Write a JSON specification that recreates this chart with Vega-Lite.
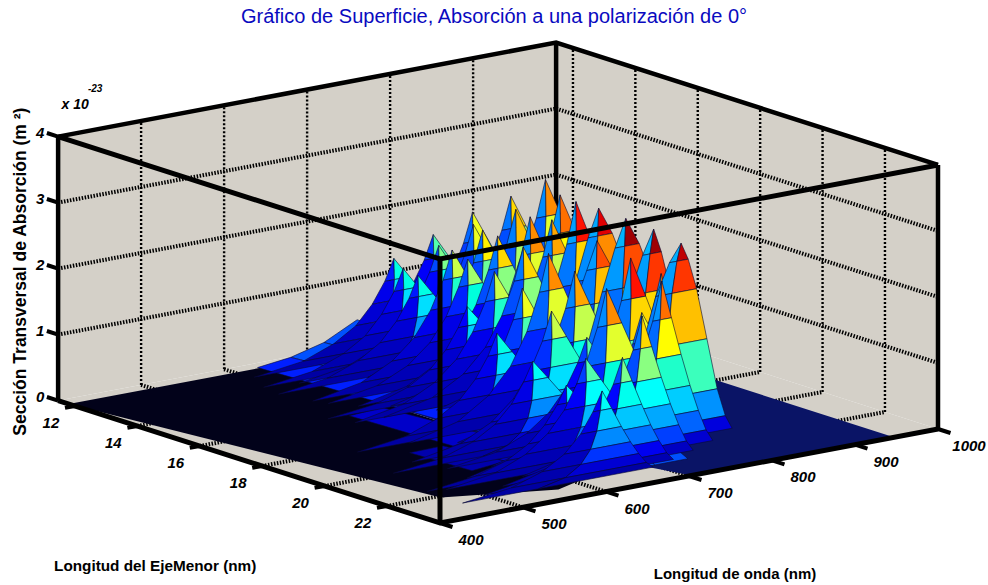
{"$schema":"https://vega.github.io/schema/vega-lite/v6.json","width":988,"height":585,"padding":0,"autosize":{"type":"none"},"background":"white","config":{"view":{"stroke":null}},
"title":{"text":"Gráfico de Superficie, Absorción a una polarización de 0°","font":"Liberation Sans","fontSize":20,"fontWeight":"normal","color":"#0a0ac0","anchor":"middle","dy":31,"dx":0},
"datasets":{
"planes":[
{"k":"wall","g":"a","i":0,"w":400,"e":11.46,"z":0},{"k":"wall","g":"a","i":1,"w":1000,"e":11.46,"z":0},{"k":"wall","g":"a","i":2,"w":1000,"e":11.46,"z":4},{"k":"wall","g":"a","i":3,"w":400,"e":11.46,"z":4},
{"k":"wall","g":"b","i":0,"w":1000,"e":11.46,"z":0},{"k":"wall","g":"b","i":1,"w":1000,"e":23.7,"z":0},{"k":"wall","g":"b","i":2,"w":1000,"e":23.7,"z":4},{"k":"wall","g":"b","i":3,"w":1000,"e":11.46,"z":4},
{"k":"wall","g":"c","i":0,"w":400,"e":11.46,"z":0},{"k":"wall","g":"c","i":1,"w":1000,"e":11.46,"z":0},{"k":"wall","g":"c","i":2,"w":1000,"e":23.7,"z":0},{"k":"wall","g":"c","i":3,"w":400,"e":23.7,"z":0},
{"k":"dark","g":"d","i":0,"w":400,"e":11.8,"z":0},{"k":"dark","g":"d","i":1,"w":461,"e":22.1,"z":0},{"k":"dark","g":"d","i":2,"w":569,"e":23,"z":0},{"k":"dark","g":"d","i":3,"w":640,"e":22.4,"z":0},{"k":"dark","g":"d","i":4,"w":640,"e":11.8,"z":0},
{"k":"navy","g":"n","i":0,"w":640,"e":11.8,"z":0},{"k":"navy","g":"n","i":1,"w":640,"e":22.4,"z":0},{"k":"navy","g":"n","i":2,"w":688,"e":22.5,"z":0},{"k":"navy","g":"n","i":3,"w":703,"e":23.7,"z":0},{"k":"navy","g":"n","i":4,"w":947,"e":23.7,"z":0},{"k":"navy","g":"n","i":5,"w":947,"e":11.8,"z":0}
],
"sheet":[
{"w1":700,"w2":740,"e1":12,"e2":21,"a":0.25,"b":0.5,"c":0.4,"d":0.5},{"w1":700,"w2":740,"e1":21,"e2":22.6,"a":0.5,"b":0.4,"c":0,"d":0},
{"w1":660,"w2":700,"e1":12,"e2":21,"a":0.12,"b":0.25,"c":0.5,"d":0.4},{"w1":660,"w2":700,"e1":21,"e2":22.6,"a":0.4,"b":0.5,"c":0,"d":0},
{"w1":620,"w2":660,"e1":12,"e2":21,"a":0.06,"b":0.12,"c":0.4,"d":0.2},{"w1":620,"w2":660,"e1":21,"e2":22.6,"a":0.2,"b":0.4,"c":0,"d":0},
{"w1":580,"w2":620,"e1":16,"e2":21,"a":0.03,"b":0.06,"c":0.2,"d":0.1},{"w1":580,"w2":620,"e1":21,"e2":22.6,"a":0.1,"b":0.2,"c":0,"d":0},
{"w1":540,"w2":580,"e1":19,"e2":21,"a":0.02,"b":0.03,"c":0.1,"d":0.05}
],
"lines":[
{"c":"gh","g":"h1","i":0,"w":400,"e":11.46,"z":1},{"c":"gh","g":"h1","i":1,"w":1000,"e":11.46,"z":1},{"c":"gh","g":"h1","i":2,"w":1000,"e":23.7,"z":1},
{"c":"gh","g":"h2","i":0,"w":400,"e":11.46,"z":2},{"c":"gh","g":"h2","i":1,"w":1000,"e":11.46,"z":2},{"c":"gh","g":"h2","i":2,"w":1000,"e":23.7,"z":2},
{"c":"gh","g":"h3","i":0,"w":400,"e":11.46,"z":3},{"c":"gh","g":"h3","i":1,"w":1000,"e":11.46,"z":3},{"c":"gh","g":"h3","i":2,"w":1000,"e":23.7,"z":3},
{"c":"gv","g":"v5","i":0,"w":500,"e":11.46,"z":0},{"c":"gv","g":"v5","i":1,"w":500,"e":11.46,"z":4},
{"c":"gv","g":"v6","i":0,"w":600,"e":11.46,"z":0},{"c":"gv","g":"v6","i":1,"w":600,"e":11.46,"z":4},
{"c":"gv","g":"v7","i":0,"w":700,"e":11.46,"z":0},{"c":"gv","g":"v7","i":1,"w":700,"e":11.46,"z":4},
{"c":"gv","g":"v8","i":0,"w":800,"e":11.46,"z":0},{"c":"gv","g":"v8","i":1,"w":800,"e":11.46,"z":4},
{"c":"gv","g":"v9","i":0,"w":900,"e":11.46,"z":0},{"c":"gv","g":"v9","i":1,"w":900,"e":11.46,"z":4},
{"c":"gv","g":"u12","i":0,"w":1000,"e":12,"z":0},{"c":"gv","g":"u12","i":1,"w":1000,"e":12,"z":4},
{"c":"gv","g":"u14","i":0,"w":1000,"e":14,"z":0},{"c":"gv","g":"u14","i":1,"w":1000,"e":14,"z":4},
{"c":"gv","g":"u16","i":0,"w":1000,"e":16,"z":0},{"c":"gv","g":"u16","i":1,"w":1000,"e":16,"z":4},
{"c":"gv","g":"u18","i":0,"w":1000,"e":18,"z":0},{"c":"gv","g":"u18","i":1,"w":1000,"e":18,"z":4},
{"c":"gv","g":"u20","i":0,"w":1000,"e":20,"z":0},{"c":"gv","g":"u20","i":1,"w":1000,"e":20,"z":4},
{"c":"gv","g":"u22","i":0,"w":1000,"e":22,"z":0},{"c":"gv","g":"u22","i":1,"w":1000,"e":22,"z":4},
{"c":"gh","g":"f5","i":0,"w":500,"e":11.46,"z":0},{"c":"gh","g":"f5","i":1,"w":500,"e":23.7,"z":0},
{"c":"gh","g":"f6","i":0,"w":600,"e":11.46,"z":0},{"c":"gh","g":"f6","i":1,"w":600,"e":23.7,"z":0},
{"c":"gh","g":"f7","i":0,"w":700,"e":11.46,"z":0},{"c":"gh","g":"f7","i":1,"w":700,"e":23.7,"z":0},
{"c":"gh","g":"f8","i":0,"w":800,"e":11.46,"z":0},{"c":"gh","g":"f8","i":1,"w":800,"e":23.7,"z":0},
{"c":"gh","g":"f9","i":0,"w":900,"e":11.46,"z":0},{"c":"gh","g":"f9","i":1,"w":900,"e":23.7,"z":0},
{"c":"gh","g":"r12","i":0,"w":400,"e":12,"z":0},{"c":"gh","g":"r12","i":1,"w":1000,"e":12,"z":0},
{"c":"gh","g":"r14","i":0,"w":400,"e":14,"z":0},{"c":"gh","g":"r14","i":1,"w":1000,"e":14,"z":0},
{"c":"gh","g":"r16","i":0,"w":400,"e":16,"z":0},{"c":"gh","g":"r16","i":1,"w":1000,"e":16,"z":0},
{"c":"gh","g":"r18","i":0,"w":400,"e":18,"z":0},{"c":"gh","g":"r18","i":1,"w":1000,"e":18,"z":0},
{"c":"gh","g":"r20","i":0,"w":400,"e":20,"z":0},{"c":"gh","g":"r20","i":1,"w":1000,"e":20,"z":0},
{"c":"gh","g":"r22","i":0,"w":400,"e":22,"z":0},{"c":"gh","g":"r22","i":1,"w":1000,"e":22,"z":0},
{"c":"back","g":"b1","i":0,"w":400,"e":11.46,"z":4},{"c":"back","g":"b1","i":1,"w":1000,"e":11.46,"z":4},{"c":"back","g":"b1","i":2,"w":1000,"e":23.7,"z":4},
{"c":"back","g":"b2","i":0,"w":400,"e":11.46,"z":0},{"c":"back","g":"b2","i":1,"w":400,"e":11.46,"z":4},
{"c":"back","g":"b3","i":0,"w":1000,"e":11.46,"z":0},{"c":"back","g":"b3","i":1,"w":1000,"e":11.46,"z":4},
{"c":"back","g":"b4","i":0,"w":1000,"e":23.7,"z":0},{"c":"back","g":"b4","i":1,"w":1000,"e":23.7,"z":4},
{"c":"front","g":"c1","i":0,"w":400,"e":11.46,"z":4},{"c":"front","g":"c1","i":1,"w":400,"e":23.7,"z":4},{"c":"front","g":"c1","i":2,"w":1000,"e":23.7,"z":4},
{"c":"front","g":"c2","i":0,"w":400,"e":23.7,"z":0},{"c":"front","g":"c2","i":1,"w":400,"e":23.7,"z":4},
{"c":"front","g":"c3","i":0,"w":400,"e":11.46,"z":0},{"c":"front","g":"c3","i":1,"w":400,"e":23.7,"z":0},{"c":"front","g":"c3","i":2,"w":1000,"e":23.7,"z":0},
{"c":"tick","g":"te12","i":0,"w":388,"e":12,"z":0},{"c":"tick","g":"te12","i":1,"w":400,"e":12,"z":0},
{"c":"tick","g":"te14","i":0,"w":388,"e":14,"z":0},{"c":"tick","g":"te14","i":1,"w":400,"e":14,"z":0},
{"c":"tick","g":"te16","i":0,"w":388,"e":16,"z":0},{"c":"tick","g":"te16","i":1,"w":400,"e":16,"z":0},
{"c":"tick","g":"te18","i":0,"w":388,"e":18,"z":0},{"c":"tick","g":"te18","i":1,"w":400,"e":18,"z":0},
{"c":"tick","g":"te20","i":0,"w":388,"e":20,"z":0},{"c":"tick","g":"te20","i":1,"w":400,"e":20,"z":0},
{"c":"tick","g":"te22","i":0,"w":388,"e":22,"z":0},{"c":"tick","g":"te22","i":1,"w":400,"e":22,"z":0},
{"c":"tick","g":"tw4","i":0,"w":400,"e":23.7,"z":0},{"c":"tick","g":"tw4","i":1,"w":400,"e":24.1,"z":0},
{"c":"tick","g":"tw5","i":0,"w":500,"e":23.7,"z":0},{"c":"tick","g":"tw5","i":1,"w":500,"e":24.1,"z":0},
{"c":"tick","g":"tw6","i":0,"w":600,"e":23.7,"z":0},{"c":"tick","g":"tw6","i":1,"w":600,"e":24.1,"z":0},
{"c":"tick","g":"tw7","i":0,"w":700,"e":23.7,"z":0},{"c":"tick","g":"tw7","i":1,"w":700,"e":24.1,"z":0},
{"c":"tick","g":"tw8","i":0,"w":800,"e":23.7,"z":0},{"c":"tick","g":"tw8","i":1,"w":800,"e":24.1,"z":0},
{"c":"tick","g":"tw9","i":0,"w":900,"e":23.7,"z":0},{"c":"tick","g":"tw9","i":1,"w":900,"e":24.1,"z":0},
{"c":"tick","g":"tw10","i":0,"w":1000,"e":23.7,"z":0},{"c":"tick","g":"tw10","i":1,"w":1000,"e":24.1,"z":0},
{"c":"tick","g":"tz0","i":0,"w":400,"e":11.1,"z":0},{"c":"tick","g":"tz0","i":1,"w":400,"e":11.46,"z":0},
{"c":"tick","g":"tz1","i":0,"w":400,"e":11.1,"z":1},{"c":"tick","g":"tz1","i":1,"w":400,"e":11.46,"z":1},
{"c":"tick","g":"tz2","i":0,"w":400,"e":11.1,"z":2},{"c":"tick","g":"tz2","i":1,"w":400,"e":11.46,"z":2},
{"c":"tick","g":"tz3","i":0,"w":400,"e":11.1,"z":3},{"c":"tick","g":"tz3","i":1,"w":400,"e":11.46,"z":3},
{"c":"tick","g":"tz4","i":0,"w":400,"e":11.1,"z":4},{"c":"tick","g":"tz4","i":1,"w":400,"e":11.46,"z":4}
],
"labels":[
{"ax":"e","t":"12","w":400,"e":12,"z":0},{"ax":"e","t":"14","w":400,"e":14,"z":0},{"ax":"e","t":"16","w":400,"e":16,"z":0},{"ax":"e","t":"18","w":400,"e":18,"z":0},{"ax":"e","t":"20","w":400,"e":20,"z":0},{"ax":"e","t":"22","w":400,"e":22,"z":0},
{"ax":"w","t":"400","w":400,"e":23.7,"z":0},{"ax":"w","t":"500","w":500,"e":23.7,"z":0},{"ax":"w","t":"600","w":600,"e":23.7,"z":0},{"ax":"w","t":"700","w":700,"e":23.7,"z":0},{"ax":"w","t":"800","w":800,"e":23.7,"z":0},{"ax":"w","t":"900","w":900,"e":23.7,"z":0},{"ax":"w","t":"1000","w":1000,"e":23.7,"z":0},
{"ax":"z","t":"0","w":400,"e":11.46,"z":0},{"ax":"z","t":"1","w":400,"e":11.46,"z":1},{"ax":"z","t":"2","w":400,"e":11.46,"z":2},{"ax":"z","t":"3","w":400,"e":11.46,"z":3},{"ax":"z","t":"4","w":400,"e":11.46,"z":4},
{"ax":"te","t":"Longitud del EjeMenor (nm)","w":400,"e":18,"z":0},
{"ax":"tw","t":"Longitud de onda (nm)","w":700,"e":23.7,"z":0},
{"ax":"tz","t":"Sección Transversal de Absorción (m ²)","w":400,"e":11.46,"z":2},
{"ax":"x1","t":"x 10","w":400,"e":11.46,"z":4},
{"ax":"x2","t":"-23","w":400,"e":11.46,"z":4}
],
"spikes":[
{"e":11.7,"a":1.5,"l":843,"r":843},{"e":11.7,"a":1.17,"l":827,"r":849},{"e":11.7,"a":0.84,"l":807,"r":855},{"e":11.7,"a":0.56,"l":783,"r":861},{"e":11.7,"a":0.33,"l":753,"r":867},{"e":11.7,"a":0.15,"l":713,"r":873},{"e":11.7,"a":0.05,"l":653,"r":879},
{"e":11.9,"a":1.3,"l":788,"r":788},{"e":11.9,"a":1.01,"l":772,"r":794},{"e":11.9,"a":0.73,"l":752,"r":800},{"e":11.9,"a":0.48,"l":728,"r":806},{"e":11.9,"a":0.29,"l":698,"r":812},{"e":11.9,"a":0.13,"l":658,"r":818},{"e":11.9,"a":0.04,"l":598,"r":824},
{"e":12.4,"a":1.9,"l":864,"r":864},{"e":12.4,"a":1.48,"l":848,"r":870},{"e":12.4,"a":1.06,"l":828,"r":876},{"e":12.4,"a":0.7,"l":804,"r":882},{"e":12.4,"a":0.42,"l":774,"r":888},{"e":12.4,"a":0.19,"l":734,"r":894},{"e":12.4,"a":0.06,"l":674,"r":900},
{"e":12.65,"a":1.3,"l":771,"r":771},{"e":12.65,"a":1.01,"l":755,"r":777},{"e":12.65,"a":0.73,"l":735,"r":783},{"e":12.65,"a":0.48,"l":711,"r":789},{"e":12.65,"a":0.29,"l":681,"r":795},{"e":12.65,"a":0.13,"l":641,"r":801},{"e":12.65,"a":0.04,"l":581,"r":807},
{"e":12.7,"a":2.1,"l":899,"r":899},{"e":12.7,"a":1.64,"l":883,"r":905},{"e":12.7,"a":1.18,"l":863,"r":911},{"e":12.7,"a":0.78,"l":839,"r":917},{"e":12.7,"a":0.46,"l":809,"r":923},{"e":12.7,"a":0.21,"l":769,"r":929},{"e":12.7,"a":0.06,"l":709,"r":935},
{"e":12.86,"a":1.6,"l":806,"r":806},{"e":12.86,"a":1.25,"l":790,"r":812},{"e":12.86,"a":0.9,"l":770,"r":818},{"e":12.86,"a":0.59,"l":746,"r":824},{"e":12.86,"a":0.35,"l":716,"r":830},{"e":12.86,"a":0.16,"l":676,"r":836},{"e":12.86,"a":0.05,"l":616,"r":842},
{"e":13.2,"a":1.9,"l":835,"r":835},{"e":13.2,"a":1.48,"l":819,"r":841},{"e":13.2,"a":1.06,"l":799,"r":847},{"e":13.2,"a":0.7,"l":775,"r":853},{"e":13.2,"a":0.42,"l":745,"r":859},{"e":13.2,"a":0.19,"l":705,"r":865},{"e":13.2,"a":0.06,"l":645,"r":871},
{"e":13.26,"a":1.3,"l":766,"r":766},{"e":13.26,"a":1.01,"l":750,"r":772},{"e":13.26,"a":0.73,"l":730,"r":778},{"e":13.26,"a":0.48,"l":706,"r":784},{"e":13.26,"a":0.29,"l":676,"r":790},{"e":13.26,"a":0.13,"l":636,"r":796},{"e":13.26,"a":0.04,"l":576,"r":802},
{"e":13.3,"a":2.4,"l":918,"r":918},{"e":13.3,"a":1.87,"l":902,"r":924},{"e":13.3,"a":1.34,"l":882,"r":930},{"e":13.3,"a":0.89,"l":858,"r":936},{"e":13.3,"a":0.53,"l":828,"r":942},{"e":13.3,"a":0.24,"l":788,"r":948},{"e":13.3,"a":0.07,"l":728,"r":954},
{"e":14,"a":2.2,"l":856,"r":856},{"e":14,"a":1.72,"l":840,"r":862},{"e":14,"a":1.23,"l":820,"r":868},{"e":14,"a":0.81,"l":796,"r":874},{"e":14,"a":0.48,"l":766,"r":880},{"e":14,"a":0.22,"l":726,"r":886},{"e":14,"a":0.07,"l":666,"r":892},
{"e":14.08,"a":2,"l":813,"r":813},{"e":14.08,"a":1.56,"l":797,"r":819},{"e":14.08,"a":1.12,"l":777,"r":825},{"e":14.08,"a":0.74,"l":753,"r":831},{"e":14.08,"a":0.44,"l":723,"r":837},{"e":14.08,"a":0.2,"l":683,"r":843},{"e":14.08,"a":0.06,"l":623,"r":849},
{"e":14.14,"a":1.8,"l":774,"r":774},{"e":14.14,"a":1.4,"l":758,"r":780},{"e":14.14,"a":1.01,"l":738,"r":786},{"e":14.14,"a":0.67,"l":714,"r":792},{"e":14.14,"a":0.4,"l":684,"r":798},{"e":14.14,"a":0.18,"l":644,"r":804},{"e":14.14,"a":0.05,"l":584,"r":810},
{"e":14.48,"a":1.7,"l":780,"r":780},{"e":14.48,"a":1.33,"l":764,"r":786},{"e":14.48,"a":0.95,"l":744,"r":792},{"e":14.48,"a":0.63,"l":720,"r":798},{"e":14.48,"a":0.37,"l":690,"r":804},{"e":14.48,"a":0.17,"l":650,"r":810},{"e":14.48,"a":0.05,"l":590,"r":816},
{"e":14.86,"a":2.5,"l":877,"r":877},{"e":14.86,"a":1.95,"l":861,"r":883},{"e":14.86,"a":1.4,"l":841,"r":889},{"e":14.86,"a":0.93,"l":817,"r":895},{"e":14.86,"a":0.55,"l":787,"r":901},{"e":14.86,"a":0.25,"l":747,"r":907},{"e":14.86,"a":0.08,"l":687,"r":913},
{"e":15.04,"a":2.1,"l":795,"r":795},{"e":15.04,"a":1.64,"l":779,"r":801},{"e":15.04,"a":1.18,"l":759,"r":807},{"e":15.04,"a":0.78,"l":735,"r":813},{"e":15.04,"a":0.46,"l":705,"r":819},{"e":15.04,"a":0.21,"l":665,"r":825},{"e":15.04,"a":0.06,"l":605,"r":831},
{"e":15.4,"a":1.2,"l":745,"r":745},{"e":15.4,"a":0.94,"l":729,"r":751},{"e":15.4,"a":0.67,"l":709,"r":757},{"e":15.4,"a":0.44,"l":685,"r":763},{"e":15.4,"a":0.26,"l":655,"r":769},{"e":15.4,"a":0.12,"l":615,"r":775},{"e":15.4,"a":0.04,"l":555,"r":781},
{"e":15.47,"a":2.4,"l":818,"r":818},{"e":15.47,"a":1.87,"l":802,"r":824},{"e":15.47,"a":1.34,"l":782,"r":830},{"e":15.47,"a":0.89,"l":758,"r":836},{"e":15.47,"a":0.53,"l":728,"r":842},{"e":15.47,"a":0.24,"l":688,"r":848},{"e":15.47,"a":0.07,"l":628,"r":854},
{"e":15.5,"a":2.3,"l":843,"r":843},{"e":15.5,"a":1.79,"l":827,"r":849},{"e":15.5,"a":1.29,"l":807,"r":855},{"e":15.5,"a":0.85,"l":783,"r":861},{"e":15.5,"a":0.51,"l":753,"r":867},{"e":15.5,"a":0.23,"l":713,"r":873},{"e":15.5,"a":0.07,"l":653,"r":879},
{"e":16,"a":1.8,"l":755,"r":755},{"e":16,"a":1.4,"l":739,"r":761},{"e":16,"a":1.01,"l":719,"r":767},{"e":16,"a":0.67,"l":695,"r":773},{"e":16,"a":0.4,"l":665,"r":779},{"e":16,"a":0.18,"l":625,"r":785},{"e":16,"a":0.05,"l":565,"r":791},
{"e":16.05,"a":2.1,"l":788,"r":788},{"e":16.05,"a":1.64,"l":772,"r":794},{"e":16.05,"a":1.18,"l":752,"r":800},{"e":16.05,"a":0.78,"l":728,"r":806},{"e":16.05,"a":0.46,"l":698,"r":812},{"e":16.05,"a":0.21,"l":658,"r":818},{"e":16.05,"a":0.06,"l":598,"r":824},
{"e":16.3,"a":2.7,"l":842,"r":842},{"e":16.3,"a":2.11,"l":826,"r":848},{"e":16.3,"a":1.51,"l":806,"r":854},{"e":16.3,"a":1,"l":782,"r":860},{"e":16.3,"a":0.59,"l":752,"r":866},{"e":16.3,"a":0.27,"l":712,"r":872},{"e":16.3,"a":0.08,"l":652,"r":878},
{"e":17.4,"a":2.8,"l":828,"r":828},{"e":17.4,"a":2.4,"l":812,"r":834},{"e":17.4,"a":1.8,"l":792,"r":840},{"e":17.4,"a":1.1,"l":768,"r":846},{"e":17.4,"a":0.62,"l":738,"r":852},{"e":17.4,"a":0.28,"l":698,"r":858},{"e":17.4,"a":0.08,"l":638,"r":864},
{"e":17.7,"a":2.1,"l":815,"r":815},{"e":17.7,"a":1.64,"l":799,"r":821},{"e":17.7,"a":1.18,"l":779,"r":827},{"e":17.7,"a":0.78,"l":755,"r":833},{"e":17.7,"a":0.46,"l":725,"r":839},{"e":17.7,"a":0.21,"l":685,"r":845},{"e":17.7,"a":0.06,"l":625,"r":851},
{"e":17.8,"a":1.9,"l":721,"r":721},{"e":17.8,"a":1.48,"l":705,"r":727},{"e":17.8,"a":1.06,"l":685,"r":733},{"e":17.8,"a":0.7,"l":661,"r":739},{"e":17.8,"a":0.42,"l":631,"r":745},{"e":17.8,"a":0.19,"l":591,"r":751},{"e":17.8,"a":0.06,"l":531,"r":757},
{"e":17.84,"a":1.3,"l":689,"r":689},{"e":17.84,"a":1.01,"l":673,"r":695},{"e":17.84,"a":0.73,"l":653,"r":701},{"e":17.84,"a":0.48,"l":629,"r":707},{"e":17.84,"a":0.29,"l":599,"r":713},{"e":17.84,"a":0.13,"l":559,"r":719},{"e":17.84,"a":0.04,"l":499,"r":725},
{"e":18,"a":2.4,"l":745,"r":745},{"e":18,"a":1.87,"l":729,"r":751},{"e":18,"a":1.34,"l":709,"r":757},{"e":18,"a":0.89,"l":685,"r":763},{"e":18,"a":0.53,"l":655,"r":769},{"e":18,"a":0.24,"l":615,"r":775},{"e":18,"a":0.07,"l":555,"r":781},
{"e":18.6,"a":2.6,"l":781,"r":781},{"e":18.6,"a":2.2,"l":765,"r":787},{"e":18.6,"a":1.7,"l":745,"r":793},{"e":18.6,"a":1.05,"l":721,"r":799},{"e":18.6,"a":0.57,"l":691,"r":805},{"e":18.6,"a":0.26,"l":651,"r":811},{"e":18.6,"a":0.08,"l":591,"r":817},
{"e":19,"a":2.3,"l":739,"r":739},{"e":19,"a":1.79,"l":723,"r":745},{"e":19,"a":1.29,"l":703,"r":751},{"e":19,"a":0.85,"l":679,"r":757},{"e":19,"a":0.51,"l":649,"r":763},{"e":19,"a":0.23,"l":609,"r":769},{"e":19,"a":0.07,"l":549,"r":775},
{"e":19.16,"a":1.8,"l":705,"r":705},{"e":19.16,"a":1.4,"l":689,"r":711},{"e":19.16,"a":1.01,"l":669,"r":717},{"e":19.16,"a":0.67,"l":645,"r":723},{"e":19.16,"a":0.4,"l":615,"r":729},{"e":19.16,"a":0.18,"l":575,"r":735},{"e":19.16,"a":0.05,"l":515,"r":741},
{"e":19.2,"a":3,"l":793,"r":793},{"e":19.2,"a":2.6,"l":777,"r":799},{"e":19.2,"a":2,"l":757,"r":805},{"e":19.2,"a":1.25,"l":733,"r":811},{"e":19.2,"a":0.66,"l":703,"r":817},{"e":19.2,"a":0.3,"l":663,"r":823},{"e":19.2,"a":0.09,"l":603,"r":829},
{"e":19.6,"a":1.2,"l":666,"r":666},{"e":19.6,"a":0.94,"l":650,"r":672},{"e":19.6,"a":0.67,"l":630,"r":678},{"e":19.6,"a":0.44,"l":606,"r":684},{"e":19.6,"a":0.26,"l":576,"r":690},{"e":19.6,"a":0.12,"l":536,"r":696},{"e":19.6,"a":0.04,"l":476,"r":702},
{"e":20,"a":1.5,"l":716,"r":716},{"e":20,"a":1.17,"l":700,"r":722},{"e":20,"a":0.84,"l":680,"r":728},{"e":20,"a":0.56,"l":656,"r":734},{"e":20,"a":0.33,"l":626,"r":740},{"e":20,"a":0.15,"l":586,"r":746},{"e":20,"a":0.05,"l":526,"r":752},
{"e":20.2,"a":3,"l":789,"r":789},{"e":20.2,"a":2.65,"l":773,"r":795},{"e":20.2,"a":2.1,"l":753,"r":801},{"e":20.2,"a":1.3,"l":729,"r":807},{"e":20.2,"a":0.66,"l":699,"r":813},{"e":20.2,"a":0.3,"l":659,"r":819},{"e":20.2,"a":0.09,"l":599,"r":825},
{"e":20.5,"a":2.7,"l":750,"r":750},{"e":20.5,"a":2.11,"l":734,"r":756},{"e":20.5,"a":1.51,"l":714,"r":762},{"e":20.5,"a":1,"l":690,"r":768},{"e":20.5,"a":0.59,"l":660,"r":774},{"e":20.5,"a":0.27,"l":620,"r":780},{"e":20.5,"a":0.08,"l":560,"r":786},
{"e":20.6,"a":2.4,"l":783,"r":783},{"e":20.6,"a":1.87,"l":767,"r":789},{"e":20.6,"a":1.34,"l":747,"r":795},{"e":20.6,"a":0.89,"l":723,"r":801},{"e":20.6,"a":0.53,"l":693,"r":807},{"e":20.6,"a":0.24,"l":653,"r":813},{"e":20.6,"a":0.07,"l":593,"r":819},
{"e":20.75,"a":1.9,"l":754,"r":754},{"e":20.75,"a":1.48,"l":738,"r":760},{"e":20.75,"a":1.06,"l":718,"r":766},{"e":20.75,"a":0.7,"l":694,"r":772},{"e":20.75,"a":0.42,"l":664,"r":778},{"e":20.75,"a":0.19,"l":624,"r":784},{"e":20.75,"a":0.06,"l":564,"r":790},
{"e":20.9,"a":2.4,"l":706,"r":706},{"e":20.9,"a":1.87,"l":690,"r":712},{"e":20.9,"a":1.34,"l":670,"r":718},{"e":20.9,"a":0.89,"l":646,"r":724},{"e":20.9,"a":0.53,"l":616,"r":730},{"e":20.9,"a":0.24,"l":576,"r":736},{"e":20.9,"a":0.07,"l":516,"r":742},
{"e":21,"a":2.9,"l":792,"r":792},{"e":21,"a":2.65,"l":776,"r":798},{"e":21,"a":2.2,"l":756,"r":804},{"e":21,"a":1.45,"l":732,"r":810},{"e":21,"a":0.7,"l":702,"r":816},{"e":21,"a":0.29,"l":662,"r":822},{"e":21,"a":0.09,"l":602,"r":828},
{"e":21.1,"a":1.1,"l":650,"r":650},{"e":21.1,"a":0.86,"l":634,"r":656},{"e":21.1,"a":0.62,"l":614,"r":662},{"e":21.1,"a":0.41,"l":590,"r":668},{"e":21.1,"a":0.24,"l":560,"r":674},{"e":21.1,"a":0.11,"l":520,"r":680},{"e":21.1,"a":0.03,"l":460,"r":686},
{"e":21.3,"a":1.5,"l":666,"r":666},{"e":21.3,"a":1.17,"l":650,"r":672},{"e":21.3,"a":0.84,"l":630,"r":678},{"e":21.3,"a":0.56,"l":606,"r":684},{"e":21.3,"a":0.33,"l":576,"r":690},{"e":21.3,"a":0.15,"l":536,"r":696},{"e":21.3,"a":0.05,"l":476,"r":702},
{"e":21.5,"a":2.5,"l":750,"r":750},{"e":21.5,"a":1.95,"l":734,"r":756},{"e":21.5,"a":1.4,"l":714,"r":762},{"e":21.5,"a":0.93,"l":690,"r":768},{"e":21.5,"a":0.55,"l":660,"r":774},{"e":21.5,"a":0.25,"l":620,"r":780},{"e":21.5,"a":0.08,"l":560,"r":786},
{"e":21.8,"a":2.1,"l":715,"r":715},{"e":21.8,"a":1.64,"l":699,"r":721},{"e":21.8,"a":1.18,"l":679,"r":727},{"e":21.8,"a":0.78,"l":655,"r":733},{"e":21.8,"a":0.46,"l":625,"r":739},{"e":21.8,"a":0.21,"l":585,"r":745},{"e":21.8,"a":0.06,"l":525,"r":751},
{"e":22.1,"a":1.6,"l":680,"r":680},{"e":22.1,"a":1.25,"l":664,"r":686},{"e":22.1,"a":0.9,"l":644,"r":692},{"e":22.1,"a":0.59,"l":620,"r":698},{"e":22.1,"a":0.35,"l":590,"r":704},{"e":22.1,"a":0.16,"l":550,"r":710},{"e":22.1,"a":0.05,"l":490,"r":716},
{"e":22.3,"a":1.2,"l":648,"r":648},{"e":22.3,"a":0.94,"l":632,"r":654},{"e":22.3,"a":0.67,"l":612,"r":660},{"e":22.3,"a":0.44,"l":588,"r":666},{"e":22.3,"a":0.26,"l":558,"r":672},{"e":22.3,"a":0.12,"l":518,"r":678},{"e":22.3,"a":0.04,"l":458,"r":684}
]},
"encoding":{"x":{"field":"px","type":"quantitative","scale":{"domain":[0,988]},"axis":null},"y":{"field":"py","type":"quantitative","scale":{"domain":[585,0]},"axis":null}},
"layer":[
{"data":{"name":"planes"},"transform":[{"filter":"datum.k=='wall'"},{"calculate":"440+0.83*(datum.w-400)-31.2*(23.7-datum.e)","as":"px"},{"calculate":"523-0.1567*(datum.w-400)-10*(23.7-datum.e)-66*datum.z","as":"py"}],"mark":{"type":"line","fill":"#d4d0c8","strokeWidth":0},"encoding":{"detail":{"field":"g"},"order":{"field":"i","type":"quantitative"}}},
{"data":{"name":"lines"},"transform":[{"filter":"datum.c=='gh'"},{"calculate":"440+0.83*(datum.w-400)-31.2*(23.7-datum.e)","as":"px"},{"calculate":"523-0.1567*(datum.w-400)-10*(23.7-datum.e)-66*datum.z","as":"py"}],"mark":{"type":"line","stroke":"#000","strokeWidth":4,"strokeDash":[1.5,1.5]},"encoding":{"detail":{"field":"g"},"order":{"field":"i","type":"quantitative"}}},
{"data":{"name":"lines"},"transform":[{"filter":"datum.c=='gv'"},{"calculate":"440+0.83*(datum.w-400)-31.2*(23.7-datum.e)","as":"px"},{"calculate":"523-0.1567*(datum.w-400)-10*(23.7-datum.e)-66*datum.z","as":"py"}],"mark":{"type":"line","stroke":"#000","strokeWidth":2.4,"strokeDash":[2,2]},"encoding":{"detail":{"field":"g"},"order":{"field":"i","type":"quantitative"}}},
{"data":{"name":"lines"},"transform":[{"filter":"datum.c=='back'"},{"calculate":"440+0.83*(datum.w-400)-31.2*(23.7-datum.e)","as":"px"},{"calculate":"523-0.1567*(datum.w-400)-10*(23.7-datum.e)-66*datum.z","as":"py"}],"mark":{"type":"line","stroke":"#000","strokeWidth":4.5},"encoding":{"detail":{"field":"g"},"order":{"field":"i","type":"quantitative"}}},
{"data":{"name":"planes"},"transform":[{"filter":"datum.k=='dark'"},{"calculate":"440+0.83*(datum.w-400)-31.2*(23.7-datum.e)","as":"px"},{"calculate":"523-0.1567*(datum.w-400)-10*(23.7-datum.e)-66*datum.z","as":"py"}],"mark":{"type":"line","fill":"#02021a","strokeWidth":0},"encoding":{"detail":{"field":"g"},"order":{"field":"i","type":"quantitative"}}},
{"data":{"name":"planes"},"transform":[{"filter":"datum.k=='navy'"},{"calculate":"440+0.83*(datum.w-400)-31.2*(23.7-datum.e)","as":"px"},{"calculate":"523-0.1567*(datum.w-400)-10*(23.7-datum.e)-66*datum.z","as":"py"}],"mark":{"type":"line","fill":"#0a1466","strokeWidth":0},"encoding":{"detail":{"field":"g"},"order":{"field":"i","type":"quantitative"}}},
{"data":{"name":"sheet"},"transform":[
{"calculate":"max(datum.a,datum.b,datum.c,datum.d)*0.9+0.05","as":"fv"},
{"calculate":"datum.w1+'_'+datum.e1","as":"cell"},
{"fold":["p0","p1","p2","p3","p4"],"as":["vk","vv"]},
{"calculate":"toNumber(substring(datum.vk,1))","as":"i"},
{"calculate":"(datum.i==1||datum.i==2)?datum.w2:datum.w1","as":"w"},
{"calculate":"(datum.i==2||datum.i==3)?datum.e2:datum.e1","as":"e"},
{"calculate":"datum.i==1?datum.b:datum.i==2?datum.c:datum.i==3?datum.d:datum.a","as":"z"},
{"calculate":"440+0.83*(datum.w-400)-31.2*(23.7-datum.e)","as":"px"},
{"calculate":"523-0.1567*(datum.w-400)-10*(23.7-datum.e)-66*datum.z","as":"py"}],
"mark":{"type":"line","stroke":"#0a0a30","strokeWidth":0.6},
"encoding":{"detail":{"field":"cell"},"order":{"field":"i","type":"quantitative"},"fill":{"field":"fv","type":"quantitative","legend":null,"scale":{"domain":[0,0.39,1.16,1.94,2.71,3.1],"range":["#000080","#0000ff","#00ffff","#ffff00","#ff0000","#800000"]}}}},
{"data":{"name":"spikes"},"transform":[
{"window":[{"op":"lead","field":"a","as":"a2"},{"op":"lead","field":"l","as":"l2"},{"op":"lead","field":"r","as":"r2"},{"op":"first_value","field":"r","as":"tip"},{"op":"first_value","field":"a","as":"atip"}],"groupby":["e"],"sort":[{"field":"a","order":"descending"}]},
{"filter":"isValid(datum.a2)"},
{"calculate":"(datum.e>=20.2&&datum.tip>=780)||datum.e>=21.5?1.1:2.2","as":"k"},
{"calculate":"datum.tip+(datum.r-datum.tip)*datum.k","as":"re"},
{"calculate":"datum.tip+(datum.r2-datum.tip)*datum.k","as":"re2"},
{"calculate":"datum.l+(datum.re-datum.l)*0.4","as":"m"},
{"calculate":"datum.l2+(datum.re2-datum.l2)*0.4","as":"m2"},
{"fold":["L","R"],"as":["side","sv"]},
{"fold":["p0","p1","p2","p3","p4"],"as":["vk","vv"]},
{"calculate":"toNumber(substring(datum.vk,1))","as":"i"},
{"calculate":"datum.side=='L'?(datum.i==1?datum.m:datum.i==2?datum.m2:datum.i==3?datum.l2:datum.l):(datum.i==1?datum.re:datum.i==2?datum.re2:datum.i==3?datum.m2:datum.m)","as":"w"},
{"calculate":"(datum.i==2||datum.i==3)?datum.a2:datum.a","as":"z"},
{"calculate":"datum.side=='L'?datum.a*0.25+0.08:datum.a*1.0","as":"fv"},
{"calculate":"datum.e+'_'+datum.a+'_'+datum.side","as":"cell"},
{"calculate":"datum.e+0.6*(1-datum.z/datum.atip)","as":"ev"},
{"calculate":"440+0.83*(datum.w-400)-31.2*(23.7-datum.ev)","as":"px"},
{"calculate":"523-0.1567*(datum.w-400)-10*(23.7-datum.ev)-66*datum.z","as":"py"}],
"mark":{"type":"line","stroke":"#0a0a30","strokeWidth":0.6},
"encoding":{"detail":{"field":"cell"},"order":{"field":"i","type":"quantitative"},"fill":{"field":"fv","type":"quantitative","legend":null,"scale":{"domain":[0,0.39,1.16,1.94,2.71,3.1],"range":["#000080","#0000ff","#00ffff","#ffff00","#ff0000","#800000"]}}}},
{"data":{"name":"lines"},"transform":[{"filter":"datum.c=='front'"},{"calculate":"440+0.83*(datum.w-400)-31.2*(23.7-datum.e)","as":"px"},{"calculate":"523-0.1567*(datum.w-400)-10*(23.7-datum.e)-66*datum.z","as":"py"}],"mark":{"type":"line","stroke":"#000","strokeWidth":5},"encoding":{"detail":{"field":"g"},"order":{"field":"i","type":"quantitative"}}},
{"data":{"name":"lines"},"transform":[{"filter":"datum.c=='tick'"},{"calculate":"440+0.83*(datum.w-400)-31.2*(23.7-datum.e)","as":"px"},{"calculate":"523-0.1567*(datum.w-400)-10*(23.7-datum.e)-66*datum.z","as":"py"}],"mark":{"type":"line","stroke":"#000","strokeWidth":4},"encoding":{"detail":{"field":"g"},"order":{"field":"i","type":"quantitative"}}},
{"data":{"name":"labels"},"transform":[{"filter":"datum.ax=='e'"},{"calculate":"440+0.83*(datum.w-400)-31.2*(23.7-datum.e)","as":"px"},{"calculate":"523-0.1567*(datum.w-400)-10*(23.7-datum.e)-66*datum.z","as":"py"}],"mark":{"type":"text","font":"Liberation Sans","fontWeight":"bold","fontStyle":"italic","fontSize":15,"dx":-24,"dy":17},"encoding":{"text":{"field":"t"}}},
{"data":{"name":"labels"},"transform":[{"filter":"datum.ax=='w'"},{"calculate":"440+0.83*(datum.w-400)-31.2*(23.7-datum.e)","as":"px"},{"calculate":"523-0.1567*(datum.w-400)-10*(23.7-datum.e)-66*datum.z","as":"py"}],"mark":{"type":"text","font":"Liberation Sans","fontWeight":"bold","fontStyle":"italic","fontSize":15,"dx":31,"dy":17},"encoding":{"text":{"field":"t"}}},
{"data":{"name":"labels"},"transform":[{"filter":"datum.ax=='z'"},{"calculate":"440+0.83*(datum.w-400)-31.2*(23.7-datum.e)","as":"px"},{"calculate":"523-0.1567*(datum.w-400)-10*(23.7-datum.e)-66*datum.z","as":"py"}],"mark":{"type":"text","font":"Liberation Sans","fontWeight":"bold","fontStyle":"italic","fontSize":15,"dx":-18,"dy":-4},"encoding":{"text":{"field":"t"}}},
{"data":{"name":"labels"},"transform":[{"filter":"datum.ax=='te'"},{"calculate":"440+0.83*(datum.w-400)-31.2*(23.7-datum.e)","as":"px"},{"calculate":"523-0.1567*(datum.w-400)-10*(23.7-datum.e)-66*datum.z","as":"py"}],"mark":{"type":"text","font":"Liberation Sans","fontWeight":"bold","fontSize":15.3,"dx":-107,"dy":100},"encoding":{"text":{"field":"t"}}},
{"data":{"name":"labels"},"transform":[{"filter":"datum.ax=='tw'"},{"calculate":"440+0.83*(datum.w-400)-31.2*(23.7-datum.e)","as":"px"},{"calculate":"523-0.1567*(datum.w-400)-10*(23.7-datum.e)-66*datum.z","as":"py"}],"mark":{"type":"text","font":"Liberation Sans","fontWeight":"bold","fontSize":15,"dx":46,"dy":98},"encoding":{"text":{"field":"t"}}},
{"data":{"name":"labels"},"transform":[{"filter":"datum.ax=='tz'"},{"calculate":"440+0.83*(datum.w-400)-31.2*(23.7-datum.e)","as":"px"},{"calculate":"523-0.1567*(datum.w-400)-10*(23.7-datum.e)-66*datum.z","as":"py"}],"mark":{"type":"text","font":"Liberation Sans","fontWeight":"bold","fontSize":17.5,"angle":270,"dx":-3,"dy":-37},"encoding":{"text":{"field":"t"}}},
{"data":{"name":"labels"},"transform":[{"filter":"datum.ax=='x1'"},{"calculate":"440+0.83*(datum.w-400)-31.2*(23.7-datum.e)","as":"px"},{"calculate":"523-0.1567*(datum.w-400)-10*(23.7-datum.e)-66*datum.z","as":"py"}],"mark":{"type":"text","font":"Liberation Sans","fontWeight":"bold","fontStyle":"italic","fontSize":14,"dx":17,"dy":-32},"encoding":{"text":{"field":"t"}}},
{"data":{"name":"labels"},"transform":[{"filter":"datum.ax=='x2'"},{"calculate":"440+0.83*(datum.w-400)-31.2*(23.7-datum.e)","as":"px"},{"calculate":"523-0.1567*(datum.w-400)-10*(23.7-datum.e)-66*datum.z","as":"py"}],"mark":{"type":"text","font":"Liberation Sans","fontWeight":"bold","fontStyle":"italic","fontSize":10,"dx":37,"dy":-48},"encoding":{"text":{"field":"t"}}}
]}
